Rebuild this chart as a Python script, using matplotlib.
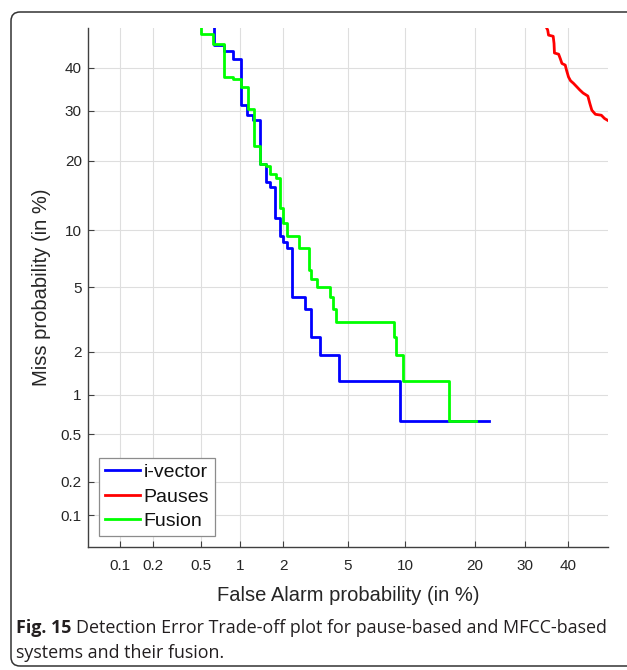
import math
import numpy as np
import matplotlib
matplotlib.use('Agg')
import matplotlib.pyplot as plt
from matplotlib.patches import FancyBboxPatch
from matplotlib.transforms import IdentityTransform

# DET curves, values in % ; staircase: horizontal segment at miss[i] ends at fa[i]
fa_ivector = [0.63, 0.76, 0.88, 1.01, 1.12, 1.24, 1.38, 1.52, 1.63, 1.77, 1.90, 2.0,
              2.13, 2.27, 2.77, 3.0, 3.41, 4.42, 9.45, 22.6]
miss_ivector = [60, 45.6, 44.1, 42.2, 31.3, 29.1, 27.95, 19.4, 16.4, 15.7, 11.4, 9.4,
                8.75, 8.1, 4.4, 3.75, 2.5, 1.9, 1.25, 0.63]

fa_fusion = [0.5, 0.62, 0.75, 0.88, 1.01, 1.14, 1.26, 1.38, 1.52, 1.63, 1.78, 1.91, 2.0,
             2.13, 2.53, 2.92, 3.0, 3.3, 3.92, 4.1, 4.25, 8.8, 9.05, 9.7, 15.8, 20.2]
miss_fusion = [60, 48.4, 45.9, 37.7, 37.2, 35.3, 30.3, 22.7, 19.4, 19.05, 17.7, 17.05, 12.7,
               10.8, 9.4, 8.1, 6.25, 5.6, 5.0, 4.4, 3.75, 3.1, 2.5, 1.9, 1.25, 0.63]

fa_pauses = [34.8, 35.2, 35.4, 36.5, 36.7, 36.8, 37.8, 38.2, 38.6, 39.4, 39.7, 40.2,
             40.7, 41.4, 42.2, 43.0, 43.8, 45.0, 45.5, 46.0, 46.9, 48.4, 49.2, 50.2]
miss_pauses = [50.3, 49.5, 48.2, 47.9, 46.1, 43.7, 43.4, 42.3, 41.1, 40.7, 39.5, 37.8,
               36.9, 36.3, 35.5, 34.7, 34.0, 33.3, 31.6, 30.1, 29.2, 29.0, 28.3, 27.8]

ticks_pct = [0.1, 0.2, 0.5, 1, 2, 5, 10, 20, 30, 40]
tick_labels = ['0.1', '0.2', '0.5', '1', '2', '5', '10', '20', '30', '40']
lim_pct = [0.05, 50]

# normal deviate (probit) scale, no scipy here
z_grid = np.linspace(-6, 6, 40001)
cdf_grid = np.array([0.5 * math.erfc(-z / math.sqrt(2)) for z in z_grid])


def probit(x):
    p = np.clip(np.asarray(x, dtype=float) / 100.0, cdf_grid[0], cdf_grid[-1])
    return np.interp(p, cdf_grid, z_grid)


def inv_probit(z):
    return 100.0 * np.interp(np.asarray(z, dtype=float), z_grid, cdf_grid)


plt.rcParams['font.family'] = ['Liberation Sans', 'DejaVu Sans']

fig = plt.figure(figsize=(6.27, 6.7), dpi=100)
ax = fig.add_axes([88 / 627, 1 - 546.7 / 670, 519.7 / 627, 518.7 / 670])

ax.set_xscale('function', functions=(probit, inv_probit))
ax.set_yscale('function', functions=(probit, inv_probit))

ax.plot(fa_ivector, miss_ivector, drawstyle='steps-pre', color='#0000ff', lw=2, label='i-vector')
ax.plot(fa_pauses, miss_pauses, color='#ff0000', lw=2, label='Pauses')
ax.plot(fa_fusion, miss_fusion, drawstyle='steps-pre', color='#00ff00', lw=2, label='Fusion')

ax.set_xlim(lim_pct)
ax.set_ylim(lim_pct)
ax.set_xticks(ticks_pct)
ax.set_xticklabels(tick_labels)
ax.set_yticks(ticks_pct)
ax.set_yticklabels(tick_labels)
ax.minorticks_off()

ax.grid(True, color='#dedede', lw=0.8)
ax.set_axisbelow(True)
for s in ['top', 'right']:
    ax.spines[s].set_visible(False)
for s in ['left', 'bottom']:
    ax.spines[s].set_color('#404040')
    ax.spines[s].set_linewidth(1.0)
ax.tick_params(direction='in', length=4, width=0.8, color='#404040',
               labelcolor='#262626', labelsize=11)
ax.tick_params(axis='x', pad=9)
ax.tick_params(axis='y', pad=4.5)

ax.set_xlabel('False Alarm probability (in %)', fontsize=14.5, color='#262626', labelpad=9)
ax.set_ylabel('Miss probability (in %)', fontsize=14.5, color='#262626', labelpad=7)

leg = ax.legend(loc='lower left', bbox_to_anchor=(0.021, 0.021), borderaxespad=0,
                fontsize=14, handlelength=1.8, handletextpad=0.2, labelspacing=0.35,
                borderpad=0.3, fancybox=False, framealpha=1, edgecolor='#8c8c8c')
leg.get_frame().set_linewidth(0.9)
for t in leg.get_texts():
    t.set_color('#111111')

# journal figure frame and caption
frame = FancyBboxPatch((11, 4), 700, 654, boxstyle='round,pad=0,rounding_size=9',
                       transform=IdentityTransform(), fill=False, ec='#333333', lw=1.1)
fig.patches.append(frame)

cap_font = ['Open Sans', 'DejaVu Sans']
cap1 = fig.text(16 / 627, 0.055, 'Fig. 15', fontsize=12.9, fontweight='bold',
                family=cap_font, color='#231f20')
fig.canvas.draw()
bb = cap1.get_window_extent()
fig.text(bb.x1 / 627 + 0.007, 0.055,
         'Detection Error Trade-off plot for pause-based and MFCC-based',
         fontsize=12.9, family=cap_font, color='#231f20')
fig.text(16 / 627, 0.018, 'systems and their fusion.', fontsize=12.9,
         family=cap_font, color='#231f20')

fig.savefig('out.png', dpi=100)
